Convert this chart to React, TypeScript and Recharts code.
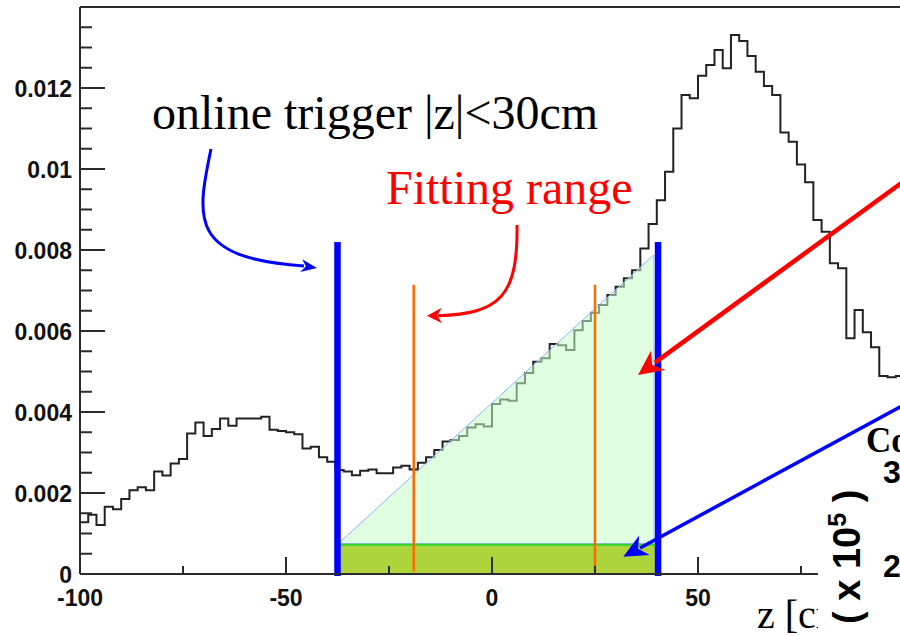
import React from 'react';
import {
  ComposedChart,
  Line,
  Area,
  XAxis,
  YAxis,
  ReferenceLine,
  ReferenceArea,
} from 'recharts';

// Vertex z distribution, 2 cm bins from -100 cm
const BIN_START = -100;
const BIN_WIDTH = 2;
const zDensity = [
  0.00128, 0.00146, 0.00121, 0.00166, 0.0016, 0.00185, 0.00207, 0.00214, 0.00207, 0.00253,
  0.00243, 0.00273, 0.00284, 0.00347, 0.00374, 0.00341, 0.00358, 0.00384, 0.00366, 0.00384,
  0.00384, 0.00384, 0.00388, 0.00356, 0.00353, 0.0035, 0.00345, 0.0031, 0.00314, 0.00288,
  0.00277, 0.00257, 0.00253, 0.00244, 0.00255, 0.00258, 0.00249, 0.00249, 0.00263, 0.00267,
  0.00258, 0.00275, 0.00288, 0.00306, 0.00327, 0.00331, 0.00341, 0.00362, 0.0037, 0.00364,
  0.0042, 0.00431, 0.00428, 0.00471, 0.00496, 0.00524, 0.00533, 0.00568, 0.00565, 0.00553,
  0.00602, 0.00625, 0.00645, 0.00664, 0.00689, 0.00709, 0.0073, 0.0075, 0.00804, 0.00864,
  0.00923, 0.00993, 0.011, 0.01183, 0.01175, 0.0123, 0.01257, 0.01294, 0.01249, 0.01331,
  0.01316, 0.01279, 0.0124, 0.01205, 0.01183, 0.0109, 0.01067, 0.01011, 0.00967, 0.00874,
  0.00845, 0.00767, 0.00755, 0.00582, 0.00652, 0.00597, 0.0056, 0.00489, 0.00486, 0.00489,
];

// Online trigger window and fitting range (cm)
const triggerEdges = [-37.5, 40.3];
const triggerMarkerTop = 0.0082;
const fitEdges = [-19, 25];
const fitMarkerTop = 0.00714;

// Flat background level and linear fit across the window
const flatLevel = 0.00072;
const fitLine = [
  { z: -37.3, band: [0.00075, 0.00075] },
  { z: 39.3, band: [0.00075, 0.00788] },
];

// Axis ticks
const xTickValues = [-100, -75, -50, -25, 0, 25, 50, 75, 100];
const xMajorValues = [-100, -50, 0, 50, 100];
const xMajorLabels = ['-100', '-50', '0', '50', '100'];
const yTickValues = [
  0, 0.0005, 0.001, 0.0015, 0.002, 0.0025, 0.003, 0.0035, 0.004, 0.0045, 0.005, 0.0055, 0.006,
  0.0065, 0.007, 0.0075, 0.008, 0.0085, 0.009, 0.0095, 0.01, 0.0105, 0.011, 0.0115, 0.012,
  0.0125, 0.013, 0.0135,
];
const yMajorValues = [0, 0.002, 0.004, 0.006, 0.008, 0.01, 0.012];
const yMajorLabels = ['0', '0.002', '0.004', '0.006', '0.008', '0.01', '0.012'];

const histogram = zDensity
  .map((v, i) => ({ z: BIN_START + i * BIN_WIDTH, v }))
  .concat([{ z: BIN_START + zDensity.length * BIN_WIDTH, v: zDensity[zDensity.length - 1] }]);

const AXIS = '#2b2b2b';
const SANS = '"Liberation Sans", Arial, Helvetica, sans-serif';
const SERIF = '"Liberation Serif", "Times New Roman", serif';

function YTick(props: any) {
  const { x, y, payload } = props;
  const idx = yMajorValues.findIndex((m) => Math.abs(m - payload.value) < 1e-9);
  const major = idx >= 0;
  return (
    <g>
      <line x1={x} x2={x + (major ? 25 : 12)} y1={y} y2={y} stroke={AXIS} strokeWidth={2} />
      {major && (
        <text x={x - 8} y={y + 9} textAnchor="end" fontSize={23} fontWeight="bold" fontFamily={SANS} fill="#111">
          {yMajorLabels[idx]}
        </text>
      )}
    </g>
  );
}

function XTick(props: any) {
  const { x, y, payload } = props;
  const idx = xMajorValues.findIndex((m) => Math.abs(m - payload.value) < 1e-9);
  const major = idx >= 0;
  return (
    <g>
      <line x1={x} x2={x} y1={y} y2={y - (major ? 17 : 8)} stroke={AXIS} strokeWidth={2} />
      {major && (
        <text x={x} y={y + 32} textAnchor="middle" fontSize={23} fontWeight="bold" fontFamily={SANS} fill="#111">
          {xMajorLabels[idx]}
        </text>
      )}
    </g>
  );
}

// Arrowhead polygon: tip, barb, notch, barb
function head(tx: number, ty: number, fx: number, fy: number, len: number, half: number, notch: number) {
  const dx = tx - fx;
  const dy = ty - fy;
  const l = Math.hypot(dx, dy);
  const ux = dx / l;
  const uy = dy / l;
  const px = -uy;
  const py = ux;
  const bx = tx - ux * len;
  const by = ty - uy * len;
  const nx = tx - ux * len * notch;
  const ny = ty - uy * len * notch;
  return `${tx},${ty} ${bx + px * half},${by + py * half} ${nx},${ny} ${bx - px * half},${by - py * half}`;
}

function Annotations() {
  return (
    <svg
      width={900}
      height={636}
      style={{ position: 'absolute', left: 0, top: 0, pointerEvents: 'none' }}
    >
      <text x={152} y={129} fontSize={48} fontFamily={SERIF} fill="#000">
        {'online trigger |z|<30cm'}
      </text>
      <text x={386} y={204} fontSize={48} fontFamily={SERIF} fill="#ff0000">
        Fitting range
      </text>

      {/* axis title, partly hidden by the neighbouring panel */}
      <text x={757} y={628} fontSize={40} fontFamily={SERIF} fill="#000">
        z [cm]
      </text>
      <rect x={818} y={412} width={90} height={230} fill="#fff" />
      <text x={866} y={452} fontSize={35} fontWeight="bold" fontFamily={SERIF} fill="#000">
        Co
      </text>
      <text x={883} y={483} fontSize={32} fontWeight="bold" fontFamily={SANS} fill="#000">
        3
      </text>
      <text x={883} y={577} fontSize={32} fontWeight="bold" fontFamily={SANS} fill="#000">
        2
      </text>
      <text transform="translate(860,624) rotate(-90)" fontSize={38} fontWeight="bold" fontFamily={SANS} fill="#000">
        ( x 10
        <tspan dy={-14} fontSize={25}>5</tspan>
        <tspan dy={14}> )</tspan>
      </text>

      {/* curved pointer to the trigger edge */}
      <path d="M 211 149 C 196 220, 190 258, 304 266" fill="none" stroke="#0000ff" strokeWidth={3} />
      <polygon points={head(317, 268, 300, 265.5, 16, 6.5, 0.7)} fill="#0000ff" />

      {/* curved pointer to the fitting range */}
      <path d="M 517 225 C 518 296, 500 314, 438 315.7" fill="none" stroke="#ff0000" strokeWidth={3} />
      <polygon points={head(427, 315.7, 445, 315.5, 15, 7.7, 0.67)} fill="#ff0000" />

      {/* straight pointers */}
      <line x1={920} y1={169.4} x2={655} y2={362.6} stroke="#ff0000" strokeWidth={4.5} />
      <polygon points={head(638, 375, 920, 169.4, 25, 12, 0.7)} fill="#ff0000" />
      <line x1={920} y1={396.2} x2={640} y2={548} stroke="#0000ff" strokeWidth={3.5} />
      <polygon points={head(623.3, 556.7, 920, 396.2, 24, 11, 0.7)} fill="#0000ff" />
    </svg>
  );
}

export default function App() {
  return (
    <div
      style={{
        position: 'absolute',
        left: 0,
        top: 0,
        width: 900,
        height: 636,
        overflow: 'hidden',
        background: '#fff',
      }}
    >
      <ComposedChart width={960} height={636} margin={{ top: 7, right: 56, left: 0, bottom: 0 }}>
        <XAxis
          type="number"
          dataKey="z"
          domain={[-100, 100]}
          allowDataOverflow
          ticks={xTickValues}
          interval={0}
          tickSize={0}
          tickMargin={0}
          height={62}
          axisLine={{ stroke: AXIS, strokeWidth: 2 }}
          tickLine={false}
          tick={<XTick />}
        />
        <YAxis
          type="number"
          domain={[0, 0.014]}
          allowDataOverflow
          ticks={yTickValues}
          interval={0}
          tickSize={0}
          tickMargin={0}
          width={80}
          axisLine={{ stroke: AXIS, strokeWidth: 2 }}
          tickLine={false}
          tick={<YTick />}
        />
        <ReferenceLine y={0.014} stroke={AXIS} strokeWidth={2} ifOverflow="visible" zIndex={500} />
        <Line
          data={histogram}
          dataKey="v"
          type="stepAfter"
          stroke="#222"
          strokeWidth={2}
          dot={false}
          activeDot={false}
          isAnimationActive={false}
          zIndex={400}
        />
        <Area
          data={fitLine}
          dataKey="band"
          type="linear"
          stroke="#8fb0ff"
          strokeWidth={1}
          fill="#c6ffc6"
          fillOpacity={0.55}
          isAnimationActive={false}
          zIndex={450}
        />
        <ReferenceLine
          segment={[
            { x: fitLine[1].z, y: fitLine[1].band[0] },
            { x: fitLine[1].z, y: fitLine[1].band[1] },
          ]}
          stroke="#a8c0ff"
          strokeWidth={1}
          zIndex={455}
        />
        <ReferenceArea
          x1={triggerEdges[0]}
          x2={triggerEdges[1]}
          y1={0}
          y2={flatLevel}
          fill="#add43a"
          fillOpacity={1}
          stroke="#2fd42f"
          strokeWidth={2}
          ifOverflow="visible"
          zIndex={460}
        />
        {fitEdges.map((z) => (
          <ReferenceLine
            key={`fit${z}`}
            segment={[
              { x: z, y: 0.00006 },
              { x: z, y: fitMarkerTop },
            ]}
            stroke="#ff6a00"
            strokeWidth={2.5}
            zIndex={470}
          />
        ))}
        {triggerEdges.map((z) => (
          <ReferenceLine
            key={`trig${z}`}
            segment={[
              { x: z, y: -0.00005 },
              { x: z, y: triggerMarkerTop },
            ]}
            stroke="#0000ff"
            strokeWidth={6.5}
            ifOverflow="visible"
            zIndex={480}
          />
        ))}
      </ComposedChart>
      <Annotations />
    </div>
  );
}
